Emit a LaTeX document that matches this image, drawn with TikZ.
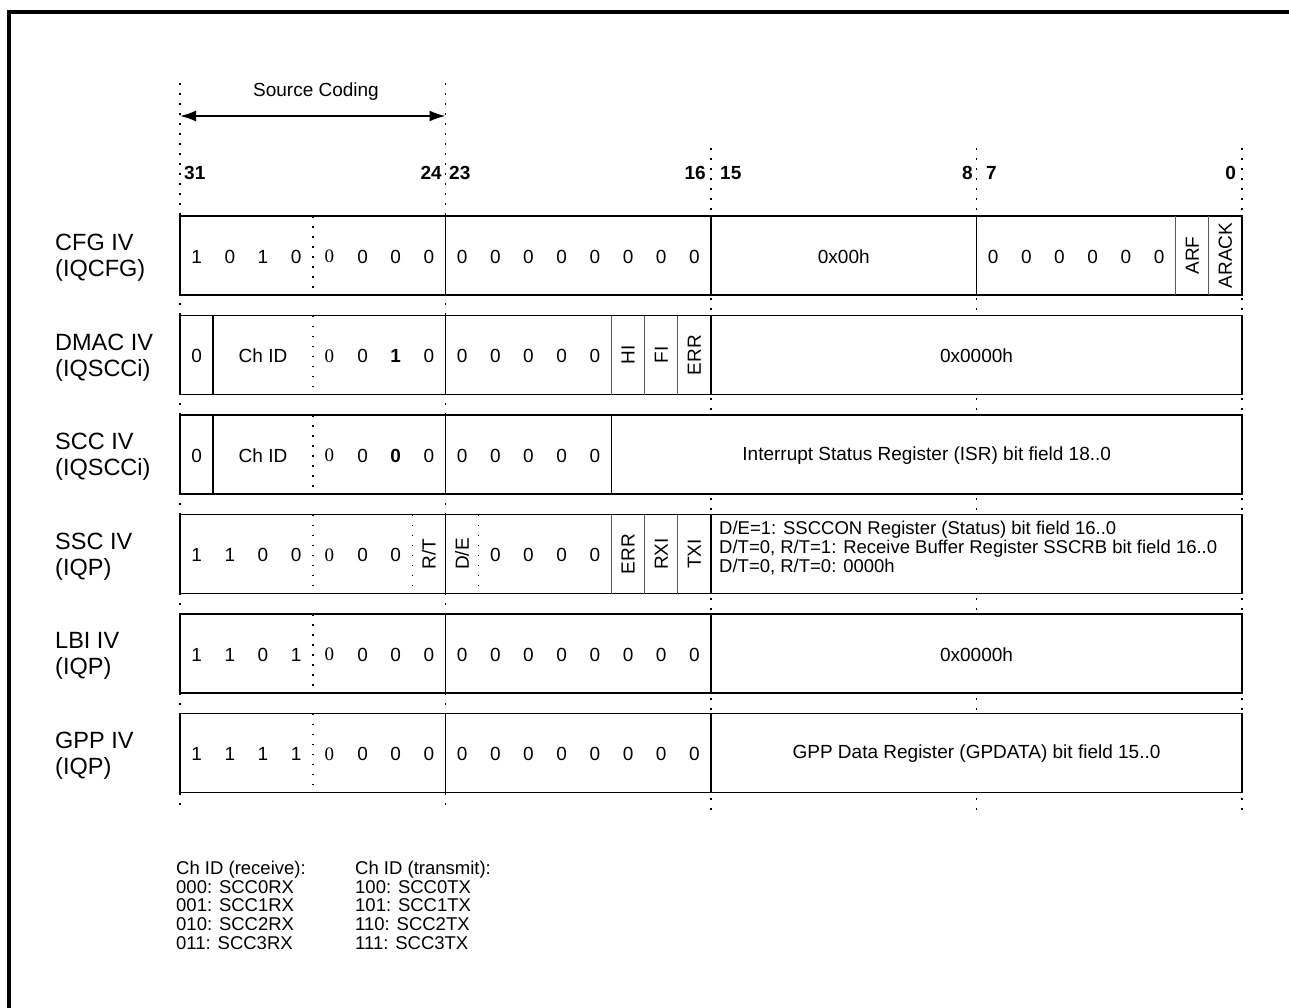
\documentclass[tikz,border=0pt]{standalone}
\usepackage{fontspec}
\setmainfont{Liberation Sans}
\newfontfamily\serifdigit{Liberation Serif}
\usetikzlibrary{arrows.meta}
\newcommand\bitc[1]{(180+(31.5-#1)*33.1875)}
\newcommand\edg[1]{(180+(32-#1)*33.1875)}
\begin{document}
\begin{tikzpicture}[x=1pt,y=-1pt,
  frame/.style={draw=black,line width=3.5pt},
  box/.style={draw=black,line width=1.8pt,fill=white},
  guide/.style={draw=black,line width=1.6pt,dash pattern=on 1.8pt off 8.2pt},
  sepl/.style={draw=black,line width=1.6pt,dash pattern=on 1.8pt off 8.2pt},
  innerl/.style={draw=black,line width=1.5pt},
  thinl/.style={draw=black!65,line width=1.3pt},
  txt/.style={font=\fontsize{19}{20}\selectfont,inner sep=0pt},
  bitnum/.style={font=\fontsize{19}{20}\selectfont\bfseries,inner sep=0pt},
  lbl/.style={font=\fontsize{23.5}{26}\selectfont,align=left,anchor=west,inner sep=0pt},
  vlab/.style={font=\fontsize{19}{20}\selectfont,rotate=90,inner sep=0pt},
  multi/.style={font=\fontsize{18.5}{19.2}\selectfont,align=left,inner sep=0pt},
  legend/.style={font=\fontsize{18.5}{18.6}\selectfont,align=left,anchor=north west,inner sep=0pt},
  arr/.style={draw=black,line width=1.8pt,{Latex[length=16pt,width=11pt]}-{Latex[length=16pt,width=11pt]}}
]
\useasboundingbox (0,0) rectangle (1289,1008);
\draw[frame] (9,1012) -- (9,12) -- (1293,12);

% guide lines
\foreach \x/\ya in {180/83, 445.5/83, 711/148, 976.5/148, 1242/148}
  \draw[guide] (\x,\ya) -- (\x,812);

% header
\node[txt] (src) at (316,92) {Source Coding};
\coordinate (srcL) at (180,116);
\coordinate (srcR) at (445.5,116);
\draw[arr] (srcL) -- (srcR);
\node[bitnum,anchor=west] (n31) at (184,173) {31};
\node[bitnum,anchor=east] (n24) at (442,173) {24};
\node[bitnum,anchor=west] (n23) at (449,173) {23};
\node[bitnum,anchor=east] (n16) at (706,173) {16};
\node[bitnum,anchor=west] (n15) at (720,173) {15};
\node[bitnum,anchor=east] (n8) at (973,173) {8};
\node[bitnum,anchor=west] (n7) at (986,173) {7};
\node[bitnum,anchor=east] (n0) at (1236,173) {0};

% row boxes
\foreach \t in {216,315.5,415,514.5,614,713.5}
  \draw[box] (180,\t) rectangle (1242,{\t+79});

% row labels
\node[lbl] (lcfg) at (55,258) {CFG IV\\(IQCFG)};
\node[lbl] (ldmac) at (55,357.5) {DMAC IV\\(IQSCCi)};
\node[lbl] (lscc) at (55,457) {SCC IV\\(IQSCCi)};
\node[lbl] (lssc) at (55,556.5) {SSC IV\\(IQP)};
\node[lbl] (llbi) at (55,656) {LBI IV\\(IQP)};
\node[lbl] (lgpp) at (55,755.5) {GPP IV\\(IQP)};

% ---------- Row 1: CFG ----------
\foreach \e in {24,16,8} \draw[innerl] ({\edg{\e}},216) -- ({\edg{\e}},295);
\draw[sepl] ({\edg{28}},216) -- ({\edg{28}},295);
\foreach \e in {2,1} \draw[thinl] ({\edg{\e}},216) -- ({\edg{\e}},295);
\foreach \b/\d in {31/1,30/0,29/1,28/0,26/0,25/0,24/0,23/0,22/0,21/0,20/0,19/0,18/0,17/0,16/0,7/0,6/0,5/0,4/0,3/0,2/0}
  \node[txt] (cfg\b) at ({\bitc{\b}},256.5) {\d};
\node[txt] (cfg27) at ({\bitc{27}},256.5) {\serifdigit 0};
\node[txt] (cfgmid) at (843.75,256.5) {0x00h};
\node[vlab] (cfgarf) at ({\bitc{1}},255.5) {ARF};
\node[vlab] (cfgarack) at ({\bitc{0}},255.5) {ARACK};

% ---------- Row 2: DMAC ----------
\foreach \e in {31,24,16} \draw[innerl] ({\edg{\e}},315.5) -- ({\edg{\e}},394.5);
\draw[sepl] ({\edg{28}},315.5) -- ({\edg{28}},394.5);
\foreach \e in {19,18,17} \draw[thinl] ({\edg{\e}},315.5) -- ({\edg{\e}},394.5);
\foreach \b/\d in {31/0,26/0,24/0,23/0,22/0,21/0,20/0,19/0}
  \node[txt] (dm\b) at ({\bitc{\b}},356) {\d};
\node[txt] (dmch) at (263,356) {Ch ID};
\node[txt] (dm27) at ({\bitc{27}},356) {\serifdigit 0};
\node[txt] (dm25) at ({\bitc{25}},356) {\bfseries 1};
\node[vlab] (dmhi) at ({\bitc{18}},355) {HI};
\node[vlab] (dmfi) at ({\bitc{17}},355) {FI};
\node[vlab] (dmerr) at ({\bitc{16}},355) {ERR};
\node[txt] (dmlow) at (976.5,356) {0x0000h};

% ---------- Row 3: SCC ----------
\foreach \e in {31,24,19} \draw[innerl] ({\edg{\e}},415) -- ({\edg{\e}},494);
\draw[sepl] ({\edg{28}},415) -- ({\edg{28}},494);
\foreach \b/\d in {31/0,26/0,24/0,23/0,22/0,21/0,20/0,19/0}
  \node[txt] (sc\b) at ({\bitc{\b}},455.5) {\d};
\node[txt] (scch) at (263,455.5) {Ch ID};
\node[txt] (sc27) at ({\bitc{27}},455.5) {\serifdigit 0};
\node[txt] (sc25) at ({\bitc{25}},455.5) {\bfseries 0};
\node[txt] (scisr) at (926.7,455.5) {Interrupt Status Register (ISR) bit field 18..0};

% ---------- Row 4: SSC ----------
\foreach \e in {24,16} \draw[innerl] ({\edg{\e}},514.5) -- ({\edg{\e}},593.5);
\foreach \e in {28,25,23} \draw[sepl] ({\edg{\e}},514.5) -- ({\edg{\e}},593.5);
\foreach \e in {19,18,17} \draw[thinl] ({\edg{\e}},514.5) -- ({\edg{\e}},593.5);
\foreach \b/\d in {31/1,30/1,29/0,28/0,26/0,25/0,22/0,21/0,20/0,19/0}
  \node[txt] (ss\b) at ({\bitc{\b}},555) {\d};
\node[txt] (ss27) at ({\bitc{27}},555) {\serifdigit 0};
\node[vlab] (ssrt) at ({\bitc{24}},554) {R/T};
\node[vlab] (ssde) at ({\bitc{23}},554) {D/E};
\node[vlab] (sserr) at ({\bitc{18}},554) {ERR};
\node[vlab] (ssrxi) at ({\bitc{17}},554) {RXI};
\node[vlab] (sstxi) at ({\bitc{16}},554) {TXI};
\node[multi,anchor=west] (sstext) at (719,548) {D/E=1: SSCCON Register (Status) bit field 16..0\\D/T=0, R/T=1: Receive Buffer Register SSCRB bit field 16..0\\D/T=0, R/T=0: 0000h};

% ---------- Row 5: LBI ----------
\foreach \e in {24,16} \draw[innerl] ({\edg{\e}},614) -- ({\edg{\e}},693);
\draw[sepl] ({\edg{28}},614) -- ({\edg{28}},693);
\foreach \b/\d in {31/1,30/1,29/0,28/1,26/0,25/0,24/0,23/0,22/0,21/0,20/0,19/0,18/0,17/0,16/0}
  \node[txt] (lb\b) at ({\bitc{\b}},654.5) {\d};
\node[txt] (lb27) at ({\bitc{27}},654.5) {\serifdigit 0};
\node[txt] (lblow) at (976.5,654.5) {0x0000h};

% ---------- Row 6: GPP ----------
\foreach \e in {24,16} \draw[innerl] ({\edg{\e}},713.5) -- ({\edg{\e}},792.5);
\draw[sepl] ({\edg{28}},713.5) -- ({\edg{28}},792.5);
\foreach \b/\d in {31/1,30/1,29/1,28/1,26/0,25/0,24/0,23/0,22/0,21/0,20/0,19/0,18/0,17/0,16/0}
  \node[txt] (gp\b) at ({\bitc{\b}},754) {\d};
\node[txt] (gp27) at ({\bitc{27}},754) {\serifdigit 0};
\node[txt] (gplow) at (976.5,754) {GPP Data Register (GPDATA) bit field 15..0};

% legend
\node[legend] (legr) at (176,861) {Ch ID (receive):\\000: SCC0RX\\001: SCC1RX\\010: SCC2RX\\011: SCC3RX};
\node[legend] (legt) at (355,861) {Ch ID (transmit):\\100: SCC0TX\\101: SCC1TX\\110: SCC2TX\\111: SCC3TX};
\end{tikzpicture}
\end{document}
